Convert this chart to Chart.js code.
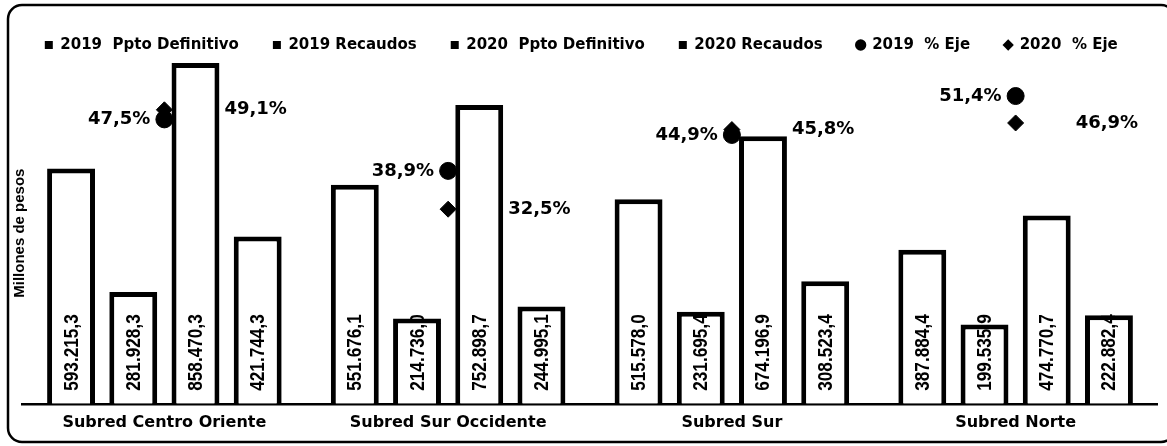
<!DOCTYPE html>
<html>
<head>
<meta charset="utf-8">
<script src="https://cdn.jsdelivr.net/npm/chart.js@4"></script>
<style>
html, body { margin: 0; padding: 0; background: #fff; }
#caja { width: 1167px; height: 446px; position: relative; }
</style>
</head>
<body>
<div id="caja"><canvas id="myChart"></canvas></div>
<script>
// datos (millones de pesos)
var subredes = ['Subred Centro Oriente', 'Subred Sur Occidente', 'Subred Sur', 'Subred Norte']
var ppto2019 = [593215.3, 551676.1, 515578.0, 387884.4]
var recaudo2019 = [281928.3, 214736.0, 231695.4, 199535.9]
var ppto2020 = [858470.3, 752898.7, 674196.9, 474770.7]
var recaudo2020 = [421744.3, 244995.1, 308523.4, 222882.4]
var eje2019 = [47.5, 38.9, 44.9, 51.4]
var eje2020 = [49.1, 32.5, 45.8, 46.9]
var nombres = ['2019  Ppto Definitivo', '2019 Recaudos', '2020  Ppto Definitivo', '2020 Recaudos', '2019  % Eje', '2020  % Eje']

// 593215.3 -> "593.215,3"
function miles(v) {
  var p = v.toFixed(1).split('.')
  return p[0].replace(/\B(?=(\d{3})+(?!\d))/g, '.') + ',' + p[1]
}
function pct(v) {
  return v.toFixed(1).replace('.', ',') + '%'
}

var gothic = '"DejaVu Sans", sans-serif'
var narrow = '"Liberation Sans Narrow", "Arial Narrow", "Liberation Sans", sans-serif'

// marco redondeado alrededor del grafico
var marco = {
  id: 'marco',
  beforeDraw: function(chart) {
    var c = chart.ctx
    c.save()
    c.lineWidth = 2.5
    c.strokeStyle = '#000'
    c.beginPath()
    c.roundRect(8, 5, chart.width, chart.height - 9, 14)
    c.stroke()
    c.restore()
  }
}

// etiquetas de valores (barras verticales) y porcentajes
var etiquetas = {
  id: 'etiquetas',
  afterDatasetsDraw: function(chart) {
    var c = chart.ctx
    c.save()
    c.fillStyle = '#000'
    chart.data.datasets.forEach(function(ds, i) {
      var meta = chart.getDatasetMeta(i)
      meta.data.forEach(function(el, j) {
        if (i < 4) {
          c.save()
          c.translate(el.x, el.base - 13)
          c.rotate(-Math.PI / 2)
          c.scale(0.86, 1)
          c.font = 'bold 20px ' + narrow
          c.textAlign = 'left'
          c.textBaseline = 'middle'
          c.fillText(miles(ds.data[j]), 0, 1)
          c.restore()
        } else {
          c.font = 'bold 18px ' + gothic
          c.textBaseline = 'middle'
          if (i == 4) {
            c.textAlign = 'right'
            c.fillText(pct(ds.data[j]), el.x - 14, el.y)
          } else {
            c.textAlign = 'left'
            c.fillText(pct(ds.data[j]), el.x + 60, el.y)
          }
        }
      })
    })
    c.restore()
  }
}

function barra(nombre, datos) {
  return {
    label: nombre,
    data: datos,
    backgroundColor: '#fff',
    borderColor: '#000',
    borderWidth: 5,
    categoryPercentage: 0.877,
    barPercentage: 0.77,
    yAxisID: 'y'
  }
}
function punto(nombre, datos, estilo, radio) {
  return {
    type: 'line',
    label: nombre,
    data: datos,
    showLine: false,
    pointStyle: estilo,
    pointRadius: radio,
    pointHoverRadius: radio,
    pointBackgroundColor: '#000',
    pointBorderColor: '#000',
    yAxisID: 'y2'
  }
}

var ctx = document.getElementById('myChart')
new Chart(ctx, {
  type: 'bar',
  data: {
    labels: subredes,
    datasets: [
      barra(nombres[0], ppto2019),
      barra(nombres[1], recaudo2019),
      barra(nombres[2], ppto2020),
      barra(nombres[3], recaudo2020),
      punto(nombres[4], eje2019, 'circle', 8.5),
      punto(nombres[5], eje2020, 'rectRot', 8)
    ]
  },
  options: {
    responsive: true,
    maintainAspectRatio: false,
    animation: false,
    layout: { padding: { left: 0, right: 4.5, top: 3.5, bottom: 5 } },
    plugins: {
      legend: {
        position: 'top',
        labels: {
          usePointStyle: true,
          boxWidth: 8,
          boxHeight: 8,
          padding: 34,
          color: '#000',
          font: { family: gothic, weight: 'bold', size: 15 },
          generateLabels: function(chart) {
            return chart.data.datasets.map(function(ds, i) {
              return {
                text: ds.label,
                fillStyle: '#000',
                strokeStyle: '#000',
                lineWidth: 0,
                fontColor: '#000',
                pointStyle: i < 4 ? 'rect' : ds.pointStyle,
                datasetIndex: i
              }
            })
          }
        }
      },
      tooltip: { enabled: false }
    },
    scales: {
      x: {
        grid: { display: false, drawTicks: false },
        border: { display: true, color: '#000', width: 2.5 },
        ticks: {
          color: '#000',
          padding: 9,
          maxRotation: 0,
          autoSkip: false,
          font: { family: gothic, weight: 'bold', size: 16 }
        }
      },
      y: {
        min: 0,
        max: 860000,
        ticks: { display: false },
        grid: { display: false },
        border: { display: false },
        title: {
          display: true,
          text: 'Millones de pesos',
          color: '#000',
          padding: { top: 11, bottom: 0 },
          font: { family: narrow, weight: 'bold', size: 15 }
        },
        afterFit: function(s) { s.width = 22.5 }
      },
      y2: {
        display: false,
        position: 'right',
        min: 0,
        max: 57
      }
    }
  },
  plugins: [marco, etiquetas]
})
</script>
</body>
</html>
